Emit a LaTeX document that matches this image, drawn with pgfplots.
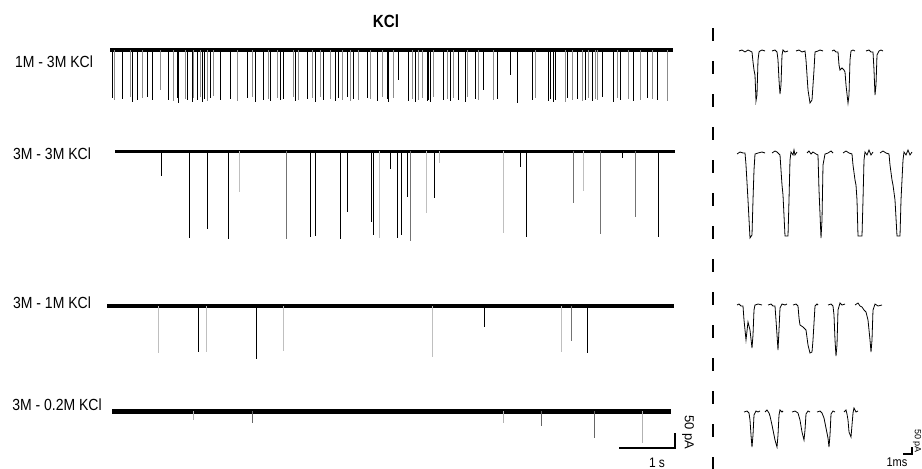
\documentclass[border=0pt]{standalone}
\usepackage{pgfplots}
\pgfplotsset{compat=1.18}
\usepackage{fontspec}
\setmainfont{Liberation Sans}
\begin{document}
\begin{tikzpicture}
\begin{axis}[
  width=922pt, height=469pt, scale only axis,
  xmin=0, xmax=922, ymin=0, ymax=469, y dir=reverse,
  axis lines=none, clip=false,
  spk/.style={draw=none, mark=none, forget plot,
    error bars/.cd, y dir=plus, y explicit, error mark=none,
    error bar style={draw=#1, line width=0.7pt}},
  ev/.style={black, line width=0.8pt, mark=none, forget plot},
]
% ---------------- trace 1 : 1M - 3M KCl
\addplot[black, line width=3.5pt, forget plot] coordinates {(110,50) (673,50)};
\addplot[spk=black] table[x=x, y=y, y error=e] {
x y e
112 50 48
122 50 49
132 50 52
137 50 50
147 50 47
152 50 50
168 50 50
177 50 48
178 50 53
187 50 50
192 50 52
197 50 50
202 50 52
204 50 49
210 50 48
220 50 50
230 50 49
247 50 48
255 50 52
263 50 50
270 50 51
280 50 50
283 50 49
295 50 51
307 50 49
315 50 52
323 50 50
335 50 51
338 50 48
347 50 47
353 50 49
367 50 48
377 50 51
387 50 49
388 50 52
398 50 30
408 50 51
415 50 52
427 50 51
428 50 50
430 50 52
443 50 50
450 50 51
458 50 50
465 50 52
475 50 49
483 50 40
497 50 49
510 50 25
517 50 53
532 50 50
548 50 51
550 50 49
553 50 52
555 50 50
567 50 48
577 50 49
585 50 50
592 50 51
602 50 47
613 50 52
620 50 50
633 50 51
647 50 48
657 50 50
};
\addplot[spk=black!45] table[x=x, y=y, y error=e] {
x y e
114 50 50
130 50 47
142 50 48
160 50 40
173 50 51
185 50 49
193 50 48
200 50 47
207 50 51
213 50 46
237 50 51
252 50 47
268 50 49
277 50 48
293 50 47
298 50 50
312 50 48
320 50 47
330 50 49
342 50 50
350 50 51
358 50 50
370 50 49
382 50 47
393 50 48
412 50 49
418 50 50
422 50 48
433 50 47
447 50 49
453 50 48
467 50 47
478 50 50
493 50 50
535 50 48
565 50 52
572 50 50
582 50 51
588 50 48
595 50 49
597 50 50
617 50 48
628 50 49
640 50 50
652 50 49
667 50 51
};
% ---------------- trace 2 : 3M - 3M KCl
\addplot[black, line width=3pt, forget plot] coordinates {(115,151) (675,151)};
\addplot[spk=black] table[x=x, y=y, y error=e] {
x y e
161 151 25
189 151 87
207 151 78
228 151 88
310 151 86
315 151 85
340 151 88
347 151 61
371 151 71
373 151 84
390 151 18
397 151 87
401 151 84
407 151 46
434 151 47
520 151 16
526 151 86
622 151 7
658 151 86
};
\addplot[spk=black!55] table[x=x, y=y, y error=e] {
x y e
286 151 88
410 151 90
573 151 52
600 151 83
635 151 66
};
\addplot[spk=black!25] table[x=x, y=y, y error=e] {
x y e
239 151 41
379 151 87
426 151 62
439 151 12
503 151 82
583 151 40
};
% ---------------- trace 3 : 3M - 1M KCl
\addplot[black, line width=4.5pt, forget plot] coordinates {(107,306) (674,306)};
\addplot[spk=black] table[x=x, y=y, y error=e] {
x y e
198 306 46
256 306 53
484 306 21
587 306 47
};
\addplot[spk=black!55] table[x=x, y=y, y error=e] {
x y e
571 306 35
};
\addplot[spk=black!25] table[x=x, y=y, y error=e] {
x y e
158 306 47
206 306 46
283 306 45
432 306 51
561 306 46
};
% ---------------- trace 4 : 3M - 0.2M KCl
\addplot[black, line width=5pt, forget plot] coordinates {(112,411) (671,411)};
\addplot[spk=black!60] table[x=x, y=y, y error=e] {
x y e
252 411 12
541 411 15
594 411 27
};
\addplot[spk=black!30] table[x=x, y=y, y error=e] {
x y e
193 411 9
503 411 12
642 411 32
};
% scale bar (left)
\addplot[black, line width=1.2pt, forget plot] coordinates {(619,448) (675,448) (675,433)};
% dashed separator
\addplot[black, line width=1.8pt, dash pattern=on 13pt off 20pt, forget plot] coordinates {(713,28) (713,469)};
% ---------------- right events, row 1
\addplot[ev] coordinates {(739,51)(742,50)(745,52)(748,50)(750,51)(752,52)(753,62)(754,70)(755,75)(756,101)(757,95)(758,60)(759,52)(760,51)(762,50)(765,51)};
\addplot[ev] coordinates {(772,51)(775,50)(777,52)(778,60)(779,80)(780,94)(781,85)(782,55)(783,50)(785,52)(788,51)};
\addplot[ev] coordinates {(796,51)(799,50)(802,52)(805,51)(806,60)(808,90)(810,103)(812,100)(814,70)(815,52)(818,51)(820,50)(823,51)};
\addplot[ev] coordinates {(832,51)(834,50)(836,52)(838,52)(839,65)(840,70)(842,68)(844,70)(845,72)(846,85)(848,103)(849,95)(850,60)(851,51)(853,50)(855,51)};
\addplot[ev] coordinates {(866,51)(869,50)(871,52)(873,52)(874,70)(875,95)(876,85)(877,55)(879,51)(881,50)(883,51)};
% row 2
\addplot[ev] coordinates {(737,154)(740,152)(743,153)(745,153)(746,165)(748,200)(750,238)(752,235)(753,200)(754,170)(755,154)(758,153)(762,152)(765,153)};
\addplot[ev] coordinates {(772,153)(775,151)(777,152)(780,155)(781,170)(782,185)(783,195)(785,236)(788,236)(789,200)(790,160)(791,152)(793,155)(794,150)(795,155)(797,152)};
\addplot[ev] coordinates {(807,153)(809,151)(811,154)(813,152)(816,154)(818,155)(819,190)(821,238)(822,220)(823,165)(825,154)(828,153)(831,151)(833,153)};
\addplot[ev] coordinates {(843,153)(846,151)(849,153)(852,154)(853,165)(855,180)(856,185)(857,200)(858,236)(862,236)(863,200)(864,160)(865,152)(867,155)(869,150)(871,155)(873,152)};
\addplot[ev] coordinates {(880,153)(883,151)(886,153)(889,154)(890,165)(892,180)(893,185)(895,200)(897,236)(900,236)(901,200)(903,160)(904,152)(906,155)(908,150)(910,155)(912,152)};
% row 3
\addplot[ev] coordinates {(737,305)(739,304)(741,306)(743,306)(744,320)(746,340)(748,322)(750,330)(752,348)(753,335)(754,310)(755,305)(758,304)(762,305)};
\addplot[ev] coordinates {(768,305)(771,304)(773,306)(775,306)(776,320)(778,350)(779,330)(780,308)(782,304)(785,305)(787,304)};
\addplot[ev] coordinates {(793,305)(796,304)(798,306)(799,318)(800,325)(803,327)(806,330)(808,345)(810,353)(812,352)(813,340)(815,306)(817,304)(818,305)};
\addplot[ev] coordinates {(828,305)(831,304)(833,306)(834,315)(835,340)(836,356)(837,345)(838,310)(840,303)(842,305)(845,304)};
\addplot[ev] coordinates {(855,305)(858,303)(860,306)(862,307)(864,310)(866,312)(868,320)(870,340)(871,352)(872,340)(873,310)(875,304)(878,306)(882,305)};
% row 4
\addplot[ev] coordinates {(744,412)(747,411)(749,413)(750,420)(751,435)(752,447)(753,435)(754,415)(756,411)(758,412)(760,411)};
\addplot[ev] coordinates {(765,412)(767,410)(769,413)(770,416)(772,425)(775,440)(777,447)(778,435)(779,415)(780,410)(782,412)(783,411)};
\addplot[ev] coordinates {(792,412)(795,411)(798,413)(800,420)(802,432)(804,440)(805,430)(806,414)(808,411)(810,412)};
\addplot[ev] coordinates {(817,412)(820,411)(822,413)(824,418)(826,428)(828,438)(829,447)(830,435)(831,414)(833,411)(835,412)};
\addplot[ev] coordinates {(844,412)(846,410)(847,414)(848,420)(849,432)(851,437)(852,425)(853,413)(854,408)(856,412)(858,411)};
% scale bar (right)
\addplot[black, line width=1.2pt, forget plot] coordinates {(903,454) (912,454) (912,447)};
% ---------------- text
\node[font=\fontsize{16}{18}\selectfont\bfseries] at (axis cs:386,21) {\scalebox{0.95}[1.1]{KCl}};
\node[font=\fontsize{14}{16}\selectfont] at (axis cs:54,62) {\scalebox{1}[1.15]{1M - 3M KCl}};
\node[font=\fontsize{14}{16}\selectfont] at (axis cs:52,154) {\scalebox{1}[1.15]{3M - 3M KCl}};
\node[font=\fontsize{14}{16}\selectfont] at (axis cs:52,303) {\scalebox{1}[1.15]{3M - 1M KCl}};
\node[font=\fontsize{14}{16}\selectfont] at (axis cs:57,405) {\scalebox{1}[1.15]{3M - 0.2M KCl}};
\node[font=\fontsize{12}{14}\selectfont] at (axis cs:657,463) {\scalebox{1}[1.15]{1 s}};
\node[font=\fontsize{13}{15}\selectfont, rotate=-90] at (axis cs:688,432) {50 pA};
\node[font=\fontsize{11}{13}\selectfont] at (axis cs:897,462) {\scalebox{1}[1.15]{1ms}};
\node[font=\fontsize{9}{10}\selectfont, rotate=-90, inner sep=0pt] at (axis cs:917,441) {50 pA};
\end{axis}
\pgfresetboundingbox
\path (current axis.south west) rectangle (current axis.north east);
\end{tikzpicture}
\end{document}
